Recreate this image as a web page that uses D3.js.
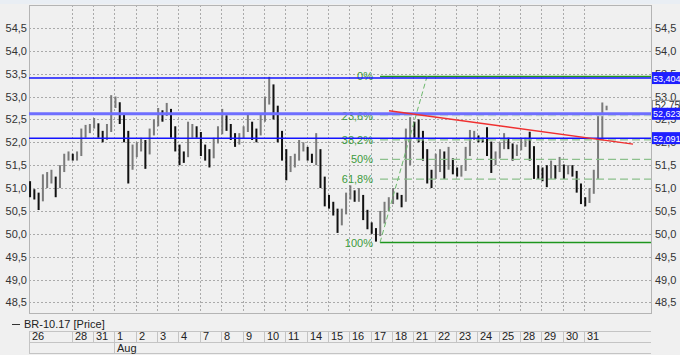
<!DOCTYPE html>
<html><head><meta charset="utf-8">
<script src="https://cdn.jsdelivr.net/npm/d3@7"></script>
<style>body{margin:0;background:#f0f0f0;}svg{display:block;font-family:"Liberation Sans",Arial,sans-serif;}</style>
</head><body>
<script>
// ---- data ----
const dayLabels = ["26","28","31","1","2","3","4","7","8","9","10","11","14","15","16","17","18","21","22","23","24","25","28","29","30","31"];
const dayIndex  = [0,2,3,4,5,6,7,8,9,10,11,12,13,14,15,16,17,18,19,20,21,22,23,24,25,26];
const monthLabels = ["Aug"];
const monthIndex = [4];
const yTicks = [48.5,49.0,49.5,50.0,50.5,51.0,51.5,52.0,52.5,53.0,53.5,54.0,54.5];
const barsPerDay = 5;
const barHigh = [51.15,50.95,50.9,51.3,51.35,51.4,51.2,51.5,51.75,51.8,51.75,51.8,52.3,52.38,52.4,52.53,52.4,52.2,52.4,53.03,53.0,52.8,52.5,52.0,51.95,52.0,52.1,52.05,52.3,52.5,52.75,52.7,52.86,52.6,52.1,51.85,51.8,52.45,52.4,52.35,52.05,51.95,51.85,52.1,52.35,52.73,52.55,52.35,52.2,52.2,52.35,52.6,52.35,52.3,52.6,53.0,53.43,53.1,52.5,52.1,51.6,51.7,51.75,52.05,52.0,51.9,51.75,52.2,51.5,50.95,50.85,50.7,50.35,50.55,50.9,51.06,50.95,51.0,50.75,50.35,50.25,50.1,50.5,50.7,50.8,51.0,50.9,50.85,52.3,52.55,52.45,52.5,52.1,51.7,51.4,51.75,51.85,51.8,51.9,51.6,51.45,51.5,51.9,52.27,52.25,52.15,52.1,52.33,51.8,51.8,52.0,52.2,52.1,51.95,51.95,52.1,52.1,52.23,51.7,51.5,51.45,51.5,51.6,51.5,51.68,51.45,51.5,51.5,51.3,50.95,50.75,51.0,51.4,52.6,52.87,52.8];
const barLow  = [50.8,50.75,50.52,50.9,51.0,51.1,50.8,51.2,51.5,51.6,51.6,51.6,51.9,52.15,52.2,52.3,52.1,52.0,52.05,52.7,52.75,52.4,52.0,51.1,51.4,51.7,51.8,51.42,52.0,52.2,52.5,52.45,52.6,52.1,51.8,51.5,51.55,51.9,52.1,52.1,51.7,51.6,51.45,51.85,52.0,52.45,52.25,52.05,51.9,51.95,52.1,52.3,52.05,52.0,52.3,52.65,53.1,52.5,52.0,51.6,51.17,51.35,51.45,51.7,51.8,51.6,51.55,51.5,51.0,50.6,50.55,50.4,50.02,50.3,50.6,50.8,50.7,50.7,50.3,50.1,50.0,49.83,49.95,50.4,50.5,50.7,50.75,50.58,50.7,52.2,52.1,52.0,51.6,51.1,51.0,51.3,51.35,51.2,51.4,51.3,51.25,51.25,51.5,51.95,52.05,52.0,52.0,51.7,51.33,51.5,51.7,51.9,51.85,51.6,51.7,51.85,51.9,51.6,51.2,51.2,51.15,51.02,51.2,51.2,51.35,51.2,51.3,51.25,50.9,50.65,50.6,50.75,51.0,51.5,52.6,52.7];
const levelValues = [53.404, 52.623, 52.091];
const levelLabels = ["53,404", "52,623", "52,091"];
const lastPrice = 52.75, lastLabel = "52,75";
const fibHigh = 53.44, fibLow = 49.81;
const fibRatios = [0, 0.236, 0.382, 0.5, 0.618, 1];
const fibLabels = ["0%", "23,6%", "38,2%", "50%", "61,8%", "100%"];
const fibStart = 16.44, fibEnd = 18.64;     // day-index positions of the fib anchors
const trendT = [16.86, 28.29];
const trendV = [52.69, 51.96];
const seriesName = "BR-10.17 [Price]";

// ---- layout ----
const W = 680, H = 355;
const pL = 29, pR = 651, pT = 5, pB = 313;
const svg = d3.select("body").append("svg").attr("width", W).attr("height", H);
const x = d3.scaleLinear().domain([0, 29.13]).range([pL, pR]);
const y = d3.scaleLinear().domain([48.27, 55.0]).range([pB, pT]);

svg.append("rect").attr("width", W).attr("height", H).attr("fill", "#f0f0f0");
svg.append("rect").attr("x",0).attr("y",0).attr("width",W).attr("height",4).attr("fill","#e9eef4");

// grid
const g = svg.append("g");
g.selectAll(".hg").data(yTicks).join("line")
  .attr("x1", pL).attr("x2", pR).attr("y1", d => Math.round(y(d))+0.5).attr("y2", d => Math.round(y(d))+0.5)
  .attr("stroke", "#aaa").attr("stroke-dasharray", "2,2");
g.selectAll(".vg").data(dayIndex.slice(1)).join("line")
  .attr("y1", pT).attr("y2", pB).attr("x1", d => Math.round(x(d))+0.5).attr("x2", d => Math.round(x(d))+0.5)
  .attr("stroke", "#aaa").attr("stroke-dasharray", "2,2");
// frame
svg.append("rect").attr("x", pL+0.5).attr("y", pT+0.5).attr("width", pR-pL).attr("height", pB-pT)
  .attr("fill", "none").attr("stroke", "#b4b4b4");

// y axis labels
const lab = (sel, anchor, xx) => sel.selectAll(null).data(yTicks).join("text")
  .attr("x", xx).attr("y", d => y(d)+4).attr("text-anchor", anchor)
  .attr("font-size", 11).attr("fill", "#333").text(d => d.toFixed(1).replace(".", ","));
lab(svg.append("g"), "end", 27);
lab(svg.append("g"), "start", 655);

// bars (each bar opens at the previous bar's middle, like an OHLC series)
const bars = barHigh.map((h, i) => ({t: i / barsPerDay + 0.05, hi: h, lo: barLow[i], mid: (h + barLow[i]) / 2}));
bars.forEach((d, i) => { d.open = i > 0 ? bars[i-1].mid : d.mid; });
svg.append("g").selectAll("rect").data(bars).join("rect")
  .attr("x", d => x(d.t) - 1).attr("width", 2)
  .attr("y", d => y(Math.max(d.hi, d.open))).attr("height", d => Math.max(1, y(Math.min(d.lo, d.open)) - y(Math.max(d.hi, d.open))))
  .attr("fill", d => d.mid > d.open ? "#7a7a7a" : "#111");

// fib
const fibVals = fibRatios.map(r => fibHigh - r * (fibHigh - fibLow));
const fg = svg.append("g");
fg.selectAll("line").data(fibVals).join("line")
  .attr("x1", x(fibStart)).attr("x2", pR).attr("y1", d => y(d)).attr("y2", d => y(d))
  .attr("stroke", (d, i) => (i === 0 || i === 5) ? "#1e961e" : (i === 1 ? "#c8dcc8" : "#8cc08c"))
  .attr("stroke-width", (d, i) => (i === 0 || i === 5) ? 1.5 : 1.2)
  .attr("stroke-dasharray", (d, i) => (i === 0 || i === 5) ? null : "8,4");
fg.selectAll("text").data(fibVals).join("text")
  .attr("x", 373).attr("y", d => y(d) + 4).attr("text-anchor", "end")
  .attr("font-size", 11).attr("fill", "#3c9a3c").text((d, i) => fibLabels[i]);
fg.append("line").attr("x1", x(fibStart)).attr("y1", y(fibLow)).attr("x2", x(fibEnd)).attr("y2", y(fibHigh))
  .attr("stroke", "#6cb86c").attr("stroke-dasharray", "5,3");

// blue levels
const lg = svg.append("g");
lg.selectAll("line").data(levelValues).join("line")
  .attr("x1", pL).attr("x2", pR).attr("y1", d => y(d)).attr("y2", d => y(d))
  .attr("stroke", (d, i) => i === 1 ? "#6e6eff" : "#1414ff")
  .attr("stroke-width", (d, i) => i === 1 ? 3 : 1.5);

// trend line
svg.append("line").attr("x1", x(trendT[0])).attr("y1", y(trendV[0])).attr("x2", x(trendT[1])).attr("y2", y(trendV[1]))
  .attr("stroke", "#f03030").attr("stroke-width", 1.5);

// right labels
const lp = svg.append("g");
lp.append("rect").attr("x", 652.5).attr("y", y(lastPrice)-7.5).attr("width", 27).attr("height", 11)
  .attr("fill", "#fafafa").attr("stroke", "#999");
lp.append("text").attr("x", 655).attr("y", y(lastPrice)+1).attr("font-size", 10).attr("fill", "#333").text(lastLabel);
const bl = svg.append("g");
bl.selectAll("rect").data(levelValues).join("rect")
  .attr("x", 652).attr("y", d => y(d)-6).attr("width", 28).attr("height", 12).attr("fill", "#1e1eff");
bl.selectAll("text").data(levelValues).join("text")
  .attr("x", 653).attr("y", d => y(d)+3.5).attr("font-size", 9).attr("fill", "#fff")
  .text((d, i) => levelLabels[i]);

// legend
svg.append("line").attr("x1", 12).attr("x2", 20).attr("y1", 324.5).attr("y2", 324.5).attr("stroke", "#333");
svg.append("text").attr("x", 24).attr("y", 328).attr("font-size", 11).attr("fill", "#222").text(seriesName);

// bottom axis
const ax = svg.append("g");
[331.5, 342.5, 353.5].forEach(v => ax.append("line").attr("x1", pL).attr("x2", pR).attr("y1", v).attr("y2", v).attr("stroke", "#c4c4c4"));
ax.selectAll(".dt").data(dayIndex).join("line")
  .attr("x1", d => Math.round(x(d))+0.5).attr("x2", d => Math.round(x(d))+0.5).attr("y1", 331).attr("y2", 342)
  .attr("stroke", "#c4c4c4");
ax.selectAll(".dl").data(dayIndex).join("text")
  .attr("x", d => Math.round(x(d)) + 3).attr("y", 340).attr("font-size", 11).attr("fill", "#222")
  .text((d, i) => dayLabels[i]);
ax.selectAll(".mt").data([0].concat(monthIndex)).join("line")
  .attr("x1", d => Math.round(x(d))+0.5).attr("x2", d => Math.round(x(d))+0.5).attr("y1", 342).attr("y2", 354)
  .attr("stroke", "#c4c4c4");
ax.selectAll(".ml").data(monthIndex).join("text")
  .attr("x", d => Math.round(x(d)) + 3).attr("y", 352).attr("font-size", 11).attr("fill", "#222")
  .text((d, i) => monthLabels[i]);
</script>
</body></html>
